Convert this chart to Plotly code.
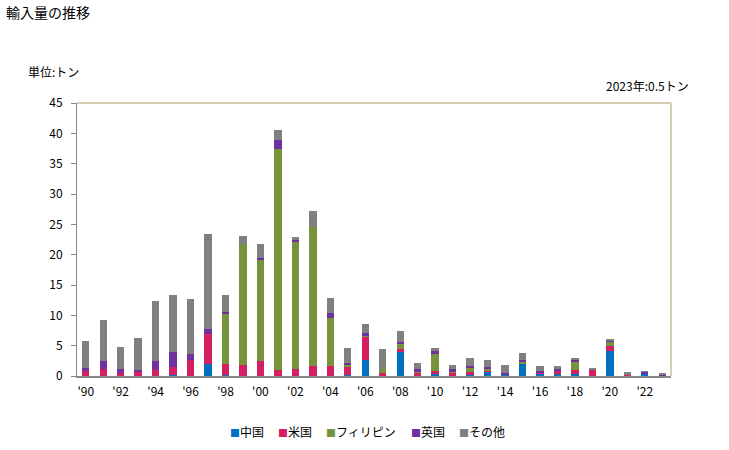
import plotly.graph_objects as go

years = list(range(1990, 2024))
tick_years = list(range(1990, 2024, 2))
tick_labels = ["'" + str(y)[2:] for y in tick_years]

china = [0, 0, 0, 0, 0, 0.15, 0, 2.03, 0.15, 0, 0, 0, 0, 0, 0, 0.16, 2.64, 0, 4.0, 0,
         0.38, 0, 0.16, 0.66, 0.16, 1.98, 0.33, 0.33, 0.33, 0, 4.12, 0, 0.33, 0]
usa = [0.8, 1.1, 0.5, 0.7, 1.04, 1.33, 2.69, 4.95, 1.88, 1.8, 2.47, 1.0, 1.15, 1.65, 1.65, 1.32, 3.79, 0.5, 0.45, 0.5,
       0.44, 0.5, 0.5, 0.16, 0, 0.16, 0.16, 0.49, 0.66, 1.1, 0.82, 0.16, 0, 0]
philippines = [0, 0, 0, 0, 0, 0, 0, 0, 8.3, 20.0, 16.76, 36.43, 20.94, 22.91, 7.91, 0.33, 0.16, 0.66, 0.88, 0.22,
               2.81, 0.22, 0.66, 0.33, 0, 0.17, 0, 0, 1.48, 0, 0.82, 0, 0, 0]
uk = [0.55, 1.43, 0.65, 0.28, 1.43, 2.48, 0.94, 0.77, 0.27, 0, 0.22, 1.48, 0.33, 0, 0.82, 0.33, 0.5, 0, 0.33, 0.5,
      0.49, 0.44, 0.33, 0.33, 0.33, 0.33, 0.33, 0.33, 0.2, 0, 0.17, 0, 0.33, 0.16]
other = [4.45, 6.7, 3.63, 5.27, 9.89, 9.39, 9.06, 15.65, 2.75, 1.27, 2.31, 1.65, 0.49, 2.64, 2.48, 2.48, 1.48, 3.3, 1.76, 0.93,
         0.5, 0.66, 1.32, 1.16, 1.32, 1.15, 0.83, 0.5, 0.2, 0.22, 0.17, 0.5, 0.16, 0.33]

series_names = ["中国", "米国", "フィリピン", "英国", "その他"]
series_values = [china, usa, philippines, uk, other]
series_colors = ["#0070C0", "#D41F63", "#77933C", "#7030A0", "#808080"]

font = "Noto Sans CJK JP"
L, R, T, B = 77, 58, 103, 74
W, H = 729, 450
pw, ph = W - L - R, H - T - B


def px_x(x):
    return (x - L) / pw


def px_y(y):
    return 1 - (y - T) / ph


fig = go.Figure()
for name, vals, col in zip(series_names, series_values, series_colors):
    fig.add_trace(go.Bar(x=years, y=vals, name=name, showlegend=False,
                         marker=dict(color=col, line=dict(width=0))))

# legend drawn as text items with coloured squares
legend_x = [228, 276, 324, 409, 457]
annotations = []
for name, col, lx in zip(series_names, series_colors, legend_x):
    annotations.append(dict(
        text=f"<span style='color:{col};font-size:10px'>■</span>{name}",
        xref="paper", yref="paper", x=px_x(lx), y=px_y(431), xanchor="left", yanchor="middle",
        showarrow=False, font=dict(size=12, color="#000000")))

annotations += [
    dict(text="輸入量の推移", xref="paper", yref="paper", x=px_x(4), y=px_y(12), xanchor="left",
         yanchor="middle", showarrow=False, font=dict(size=14)),
    dict(text="単位:トン", xref="paper", yref="paper", x=px_x(26), y=px_y(72), xanchor="left",
         yanchor="middle", showarrow=False, font=dict(size=12)),
    dict(text="2023年:0.5トン", xref="paper", yref="paper", x=px_x(691), y=px_y(85), xanchor="right",
         yanchor="middle", showarrow=False, font=dict(size=12)),
]

fig.update_layout(
    barmode="stack",
    bargap=0.58,
    width=W, height=H,
    margin=dict(l=L, r=R, t=T, b=B, autoexpand=False),
    paper_bgcolor="white", plot_bgcolor="white",
    font=dict(family=font, size=12, color="#000000"),
    showlegend=False,
    xaxis=dict(range=[1989.5, 2023.5], tickvals=tick_years, ticktext=tick_labels,
               showline=True, linecolor="#898989", linewidth=2, ticks="", showgrid=False,
               zeroline=False, tickfont=dict(size=12), ticklabelstandoff=4, automargin=False),
    yaxis=dict(range=[0, 45], dtick=5, showline=True, linecolor="#898989", linewidth=1,
               ticks="outside", ticklen=5, tickcolor="#898989", showgrid=False, zeroline=False,
               tickfont=dict(size=12), ticklabelstandoff=6, automargin=False),
    shapes=[
        dict(type="line", xref="paper", yref="paper", x0=0, x1=1, y0=1, y1=1,
             line=dict(color="#C8BE9A", width=1.5)),
        dict(type="line", xref="paper", yref="paper", x0=1, x1=1, y0=0, y1=1,
             line=dict(color="#C8BE9A", width=1.5)),
    ],
    annotations=annotations,
)

fig.write_html("out.html", config={"displayModeBar": False},
               post_script="document.body.style.margin='0';")
